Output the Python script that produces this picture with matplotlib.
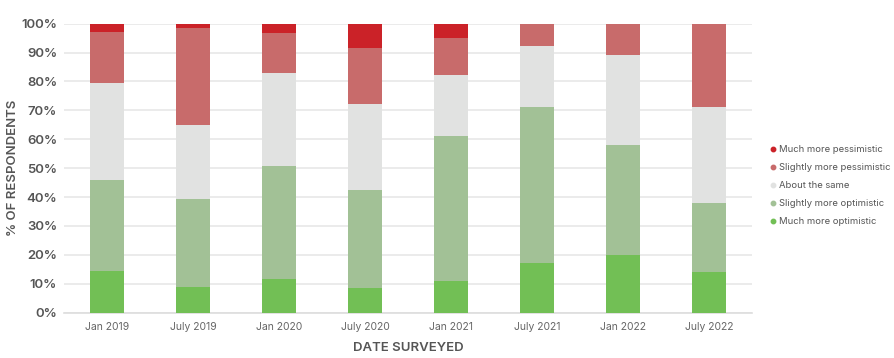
import numpy as np
import matplotlib.pyplot as plt
from matplotlib.lines import Line2D

plt.rcParams['font.family'] = ['Inter', 'DejaVu Sans']

dates = ["Jan 2019", "July 2019", "Jan 2020", "July 2020", "Jan 2021", "July 2021", "Jan 2022", "July 2022"]

much_opt = [14.5, 9.0, 11.6, 8.4, 11.1, 17.2, 19.8, 14.1]
slight_opt = [31.4, 30.2, 39.1, 34.0, 50.1, 53.8, 38.2, 24.0]
same = [33.5, 25.9, 32.3, 29.9, 21.0, 21.3, 31.2, 33.2]
slight_pess = [17.7, 33.4, 13.7, 19.2, 13.0, 7.7, 10.8, 28.7]
much_pess = [2.9, 1.5, 3.3, 8.5, 4.8, 0.0, 0.0, 0.0]

series = [
    ("Much more optimistic", much_opt, "#72bf55"),
    ("Slightly more optimistic", slight_opt, "#a2c196"),
    ("About the same", same, "#e1e2e1"),
    ("Slightly more pessimistic", slight_pess, "#c86b6b"),
    ("Much more pessimistic", much_pess, "#cb2228"),
]

fig = plt.figure(figsize=(8.94, 3.58), dpi=100)
ax = fig.add_axes([0.0716, 0.1265, 0.7694, 0.8075])

x = np.arange(len(dates))
bottom = np.zeros(len(dates))
for name, vals, col in series:
    ax.bar(x, vals, width=0.39, bottom=bottom, color=col, zorder=3)
    bottom += np.array(vals)

ax.set_xlim(-0.5, len(dates) - 0.5)
ax.set_ylim(0, 100)
ax.set_yticks(np.arange(0, 101, 10))
ax.set_yticklabels([f"{v}%" for v in range(0, 101, 10)], fontsize=9.5, color="#555555", fontweight="semibold")
ax.set_xticks(x)
ax.set_xticklabels(dates, fontsize=7.5, color="#666666")
ax.tick_params(axis="y", length=0, pad=5)
ax.tick_params(axis="x", length=0, pad=7)
ax.grid(axis="y", color="#e8e8e8", linewidth=1.2, zorder=0)
for s in ["top", "right", "left"]:
    ax.spines[s].set_visible(False)
ax.spines["bottom"].set_color("#dddddd")
ax.spines["bottom"].set_linewidth(1.2)

ax.set_xlabel("DATE SURVEYED", fontsize=9.5, color="#555555", fontweight="semibold", labelpad=7)
ax.set_ylabel("% OF RESPONDENTS", fontsize=9.5, color="#555555", fontweight="semibold")
ax.yaxis.set_label_coords(-0.066, 0.5)

handles = [Line2D([], [], marker="o", linestyle="", markersize=3.2, color=col, label=name)
           for name, vals, col in reversed(series)]
fig.legend(handles=handles, loc="upper left", bbox_to_anchor=(0.855, 0.605), frameon=False,
           fontsize=6.8, labelcolor="#555555", handletextpad=0.1, handlelength=1.0,
           labelspacing=0.95, borderaxespad=0)

fig.savefig("out.png", dpi=100)
